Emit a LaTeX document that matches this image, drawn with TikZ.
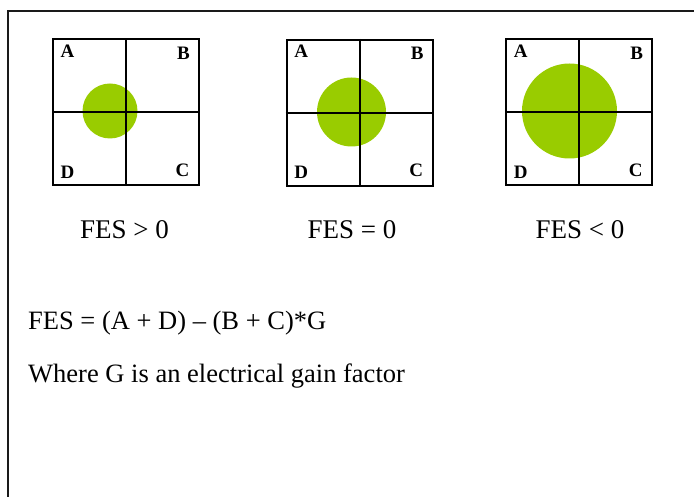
\documentclass[tikz,border=0pt]{standalone}
\usepackage{fontspec}
\setmainfont{Liberation Serif}
\usetikzlibrary{calc}
\definecolor{spotfill}{HTML}{99CC00}
\definecolor{gridline}{HTML}{000000}
\definecolor{frameline}{HTML}{1A1A1A}
\tikzset{
  quad/.style   = {rectangle, draw=gridline, line width=2pt, minimum width=146pt,
                   minimum height=146pt, inner sep=0pt},
  spot/.style   = {circle, fill=spotfill, inner sep=0pt},
  seg/.style    = {inner sep=0pt, font=\fontsize{19}{22}\selectfont\bfseries},
  caption/.style= {inner sep=0pt, anchor=base, font=\fontsize{27}{31}\selectfont},
  eqn/.style    = {inner sep=0pt, anchor=base west, font=\fontsize{26.5}{31}\selectfont},
  split/.style  = {draw=gridline, line width=2pt},
}

\begin{document}
\begin{tikzpicture}[x=1pt, y=-1pt]
					\useasboundingbox (0,0) rectangle (694,497);
					\clip (0,0) rectangle (694,497);
					\draw[line width=2pt, draw=frameline] (8,510) -- (8,11) -- (710,11);
					% spots sit under the grids
					\node[spot, minimum size=55pt] (s1) at (110,111) {};
					\node[spot, minimum size=69pt] (s2) at (351.5,112) {};
					\node[spot, minimum size=95pt] (s3) at (569.5,111) {};
					\node[quad] (p1) at (126,112.5) {};
					\node[quad] (p2) at (359.7,112.8) {};
					\node[quad] (p3) at (579.3,112.5) {};
					\foreach \i in {1,2,3}{\draw[split] (p\i.north) -- (p\i.south); \draw[split] (p\i.west) -- (p\i.east);}
					\node[seg] (a1) at ($(p1.north west)+(15.5,12.5)$) {A};
					\node[seg] (b1) at ($(p1.north east)+(-16.5,15)$) {B};
					\node[seg] (d1) at ($(p1.south west)+(15.5,-14.5)$) {D};
					\node[seg] (c1) at ($(p1.south east)+(-17.5,-16.5)$) {C};
					\node[seg] (a2) at ($(p2.north west)+(15.5,12.5)$) {A};
					\node[seg] (b2) at ($(p2.north east)+(-16.5,15)$) {B};
					\node[seg] (d2) at ($(p2.south west)+(15.5,-14.5)$) {D};
					\node[seg] (c2) at ($(p2.south east)+(-17.5,-16.5)$) {C};
					\node[seg] (a3) at ($(p3.north west)+(15.5,12.5)$) {A};
					\node[seg] (b3) at ($(p3.north east)+(-16.5,15)$) {B};
					\node[seg] (d3) at ($(p3.south west)+(15.5,-14.5)$) {D};
					\node[seg] (c3) at ($(p3.south east)+(-17.5,-16.5)$) {C};
					\node[caption] (f1) at (124.5,239) {FES > 0};
					\node[caption] (f2) at (352,239) {FES = 0};
					\node[caption] (f3) at (580,239) {FES < 0};
					\node[eqn] (fes) at (28,330) {FES = (A + D) -- (B + C)*G};
					\node[eqn] (gain) at (28,382) {Where G is an electrical gain factor};
				\end{tikzpicture}
\end{document}
